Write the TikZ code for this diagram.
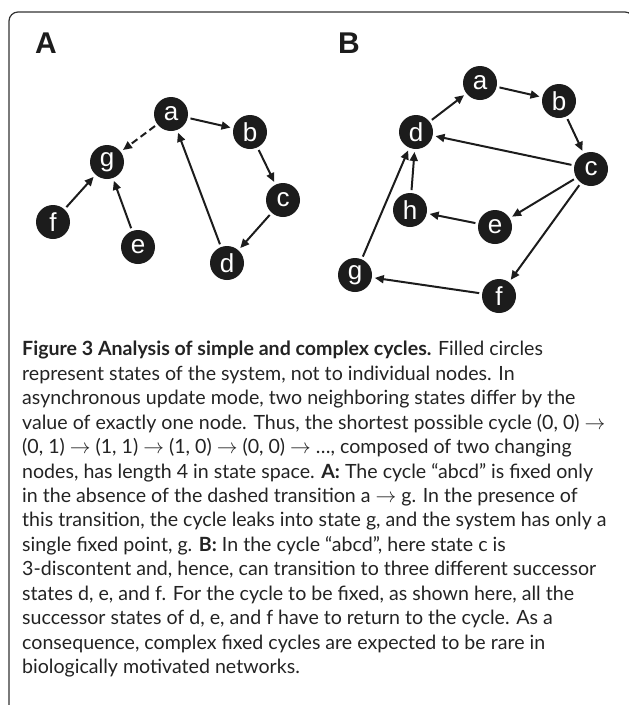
\documentclass[tikz,border=0pt]{standalone}
\usepackage{fontspec}
\setmainfont{Lato}
\newfontfamily\statefont{Liberation Sans}
\usepackage{tikz}
\usetikzlibrary{shapes,arrows,arrows.meta,positioning,calc}
\definecolor{stateblack}{RGB}{28, 28, 28}
\definecolor{framegray}{RGB}{50, 50, 50}
\definecolor{captiongray}{RGB}{35, 35, 35}

\tikzset{
  state/.style={circle,fill=stateblack,minimum size=34pt,inner sep=0pt,outer sep=3pt,
    text=white,font=\statefont\fontsize{26}{26}\selectfont},
  trans/.style={-{Triangle[length=9pt,width=8pt]},line width=2pt,stateblack},
  panellabel/.style={font=\statefont\bfseries\fontsize{30}{30}\selectfont,text=stateblack,inner sep=0pt},
}

\begin{document}
\begin{tikzpicture}[x=1pt,y=-1pt]
    \useasboundingbox (0,0) rectangle (629,705);
    \draw[line width=1.2pt,rounded corners=9pt,framegray] (9,712) -- (9,12) -- (634,12) -- (634,60);

    % panel A
    \node[panellabel] (labA) at (46,43) {A};
    \node[state] (Aa) at (171,114) {a};
    \node[state] (Ab) at (250,132) {b};
    \node[state] (Ac) at (283,200) {c};
    \node[state] (Ad) at (227,263) {d};
    \node[state] (Ae) at (138,247) {e};
    \node[state] (Af) at (53,222) {f};
    \node[state] (Ag) at (107,162) {g};
    \draw[trans] (Aa) -- (Ab);
    \draw[trans] (Ab) -- (Ac);
    \draw[trans] (Ac) -- (Ad);
    \draw[trans] (Ad) -- (Aa);
    \draw[trans,dash pattern=on 7pt off 4pt] (Aa) -- (Ag);
    \draw[trans] (Af) -- (Ag);
    \draw[trans] (Ae) -- (Ag);

    % panel B
    \node[panellabel] (labB) at (349,43) {B};
    \node[state] (Ba) at (480,83) {a};
    \node[state] (Bb) at (559,101) {b};
    \node[state] (Bc) at (591,169) {c};
    \node[state] (Bd) at (416,132) {d};
    \node[state] (Be) at (495,227) {e};
    \node[state] (Bf) at (499,296) {f};
    \node[state] (Bg) at (355,275) {g};
    \node[state] (Bh) at (410,210) {h};
    \draw[trans] (Bd) -- (Ba);
    \draw[trans] (Ba) -- (Bb);
    \draw[trans] (Bb) -- (Bc);
    \draw[trans] (Bc) -- (Bd);
    \draw[trans] (Bc) -- (Be);
    \draw[trans] (Bc) -- (Bf);
    \draw[trans] (Be) -- (Bh);
    \draw[trans] (Bh) -- (Bd);
    \draw[trans] (Bf) -- (Bg);
    \draw[trans] (Bg) -- (Bd);

    % caption
    \node[anchor=north west,inner sep=0pt,align=left,text=captiongray,
      font=\fontsize{19.6}{24.45}\selectfont] (caption) at (22,341) {%
      \textbf{Figure 3 Analysis of simple and complex cycles.} Filled circles\\
      represent states of the system, not to individual nodes. In\\
      asynchronous update mode, two neighboring states differ by the\\
      value of exactly one node. Thus, the shortest possible cycle (0, 0) $\rightarrow$\\
      (0, 1) $\rightarrow$ (1, 1) $\rightarrow$ (1, 0) $\rightarrow$ (0, 0) $\rightarrow$ …, composed of two changing\\
      nodes, has length 4 in state space. \textbf{A:} The cycle “abcd” is fixed only\\
      in the absence of the dashed transition a $\rightarrow$ g. In the presence of\\
      this transition, the cycle leaks into state g, and the system has only a\\
      single fixed point, g. \textbf{B:} In the cycle “abcd”, here state c is\\
      3-discontent and, hence, can transition to three different successor\\
      states d, e, and f. For the cycle to be fixed, as shown here, all the\\
      successor states of d, e, and f have to return to the cycle. As a\\
      consequence, complex fixed cycles are expected to be rare in\\
      biologically motivated networks.};
\end{tikzpicture}
\end{document}
